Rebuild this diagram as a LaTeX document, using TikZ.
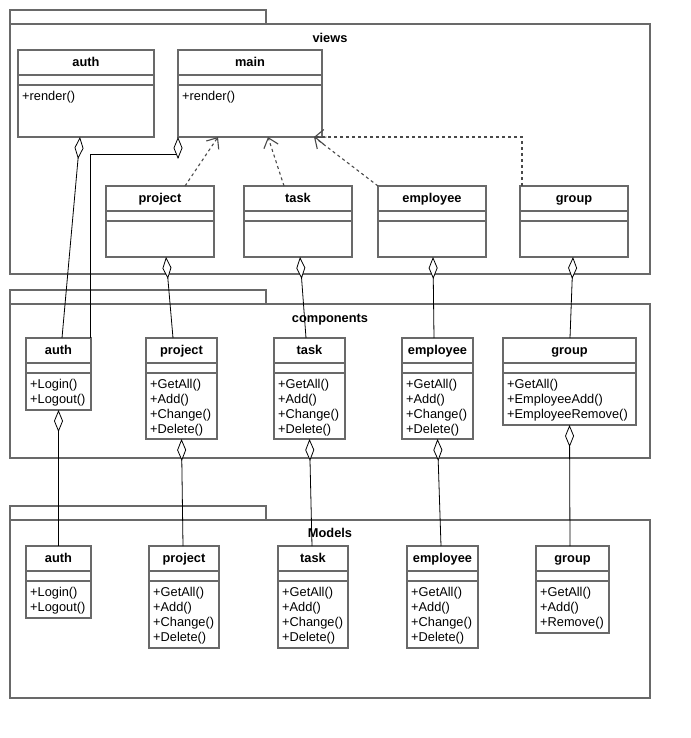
\documentclass[tikz,border=0pt]{standalone}
\usepackage{fontspec}
\setmainfont{Liberation Sans}
\usetikzlibrary{arrows.meta}

\definecolor{boxgray}{RGB}{105,105,105}

\begin{document}
\begin{tikzpicture}[x=1pt, y=-1pt,
    cls/.style = {draw=boxgray, line width=1.5pt, anchor=north west, outer sep=0pt, inner sep=0pt,
        path picture={\draw[boxgray, line width=1.5pt]
            ([yshift=-25pt]path picture bounding box.north west) -- ([yshift=-25pt]path picture bounding box.north east)
            ([yshift=-35pt]path picture bounding box.north west) -- ([yshift=-35pt]path picture bounding box.north east);}},
    title/.style = {font=\fontsize{12.8}{15}\selectfont\bfseries, inner sep=0pt, text height=9.2pt, text depth=2.7pt},
    ops/.style = {font=\fontsize{12.8}{15}\selectfont, align=left, anchor=north west, inner sep=0pt},
    pkg/.style = {draw=boxgray, line width=1.5pt},
    aggr/.style = {{Diamond[length=22pt, width=9pt, fill=white]}-, line width=0.8pt},
    dep/.style = {-{Straight Barb[length=9pt, width=15pt]}, dash pattern=on 3pt off 3pt, boxgray!70!black, line width=1.1pt}]
    \useasboundingbox (0,0) rectangle (690,738);

    % packages
    \draw[pkg] (10,10) rectangle (266,24);
    \draw[pkg] (10,24) rectangle (650,274);
    \node[title] (views) at (330,39.4) {views};
    \draw[pkg] (10,290) rectangle (266,304);
    \draw[pkg] (10,304) rectangle (650,458);
    \node[title] (components) at (330,319.4) {components};
    \draw[pkg] (10,506) rectangle (266,520);
    \draw[pkg] (10,520) rectangle (650,698);
    \node[title] (models) at (330,534.4) {Models};

    % views
    \node[cls, minimum width=136pt, minimum height=87pt] (vauth) at (18,50) {};
    \node[title] (vauthT) at ([yshift=-13.5pt]vauth.north) {auth};
    \node[ops] (vauthO) at ([xshift=4pt, yshift=-40.7pt]vauth.north west) {+render()};
    \node[cls, minimum width=144pt, minimum height=87pt] (vmain) at (178,50) {};
    \node[title] (vmainT) at ([yshift=-13.5pt]vmain.north) {main};
    \node[ops] (vmainO) at ([xshift=4pt, yshift=-40.7pt]vmain.north west) {+render()};
    \node[cls, minimum width=108pt, minimum height=71pt] (vproject) at (106,186) {};
    \node[title] (vprojectT) at ([yshift=-13.5pt]vproject.north) {project};
    \node[cls, minimum width=108pt, minimum height=71pt] (vtask) at (244,186) {};
    \node[title] (vtaskT) at ([yshift=-13.5pt]vtask.north) {task};
    \node[cls, minimum width=108pt, minimum height=71pt] (vemployee) at (378,186) {};
    \node[title] (vemployeeT) at ([yshift=-13.5pt]vemployee.north) {employee};
    \node[cls, minimum width=108pt, minimum height=71pt] (vgroup) at (520,186) {};
    \node[title] (vgroupT) at ([yshift=-13.5pt]vgroup.north) {group};

    % components
    \node[cls, minimum width=65pt, minimum height=72pt] (cauth) at (26,338) {};
    \node[title] (cauthT) at ([yshift=-13.5pt]cauth.north) {auth};
    \node[ops] (cauthO) at ([xshift=4pt, yshift=-40.7pt]cauth.north west) {+Login()\\+Logout()};
    \node[cls, minimum width=71pt, minimum height=101pt] (cproject) at (146,338) {};
    \node[title] (cprojectT) at ([yshift=-13.5pt]cproject.north) {project};
    \node[ops] (cprojectO) at ([xshift=4pt, yshift=-40.7pt]cproject.north west) {+GetAll()\\+Add()\\+Change()\\+Delete()};
    \node[cls, minimum width=71pt, minimum height=101pt] (ctask) at (274,338) {};
    \node[title] (ctaskT) at ([yshift=-13.5pt]ctask.north) {task};
    \node[ops] (ctaskO) at ([xshift=4pt, yshift=-40.7pt]ctask.north west) {+GetAll()\\+Add()\\+Change()\\+Delete()};
    \node[cls, minimum width=71pt, minimum height=101pt] (cemployee) at (402,338) {};
    \node[title] (cemployeeT) at ([yshift=-13.5pt]cemployee.north) {employee};
    \node[ops] (cemployeeO) at ([xshift=4pt, yshift=-40.7pt]cemployee.north west) {+GetAll()\\+Add()\\+Change()\\+Delete()};
    \node[cls, minimum width=133pt, minimum height=87pt] (cgroup) at (503,338) {};
    \node[title] (cgroupT) at ([yshift=-13.5pt]cgroup.north) {group};
    \node[ops] (cgroupO) at ([xshift=4pt, yshift=-40.7pt]cgroup.north west) {+GetAll()\\+EmployeeAdd()\\+EmployeeRemove()};

    % models
    \node[cls, minimum width=65pt, minimum height=72pt] (mauth) at (26,546) {};
    \node[title] (mauthT) at ([yshift=-13.5pt]mauth.north) {auth};
    \node[ops] (mauthO) at ([xshift=4pt, yshift=-40.7pt]mauth.north west) {+Login()\\+Logout()};
    \node[cls, minimum width=70pt, minimum height=102pt] (mproject) at (149,546) {};
    \node[title] (mprojectT) at ([yshift=-13.5pt]mproject.north) {project};
    \node[ops] (mprojectO) at ([xshift=4pt, yshift=-40.7pt]mproject.north west) {+GetAll()\\+Add()\\+Change()\\+Delete()};
    \node[cls, minimum width=70pt, minimum height=102pt] (mtask) at (278,546) {};
    \node[title] (mtaskT) at ([yshift=-13.5pt]mtask.north) {task};
    \node[ops] (mtaskO) at ([xshift=4pt, yshift=-40.7pt]mtask.north west) {+GetAll()\\+Add()\\+Change()\\+Delete()};
    \node[cls, minimum width=71pt, minimum height=102pt] (memployee) at (407,546) {};
    \node[title] (memployeeT) at ([yshift=-13.5pt]memployee.north) {employee};
    \node[ops] (memployeeO) at ([xshift=4pt, yshift=-40.7pt]memployee.north west) {+GetAll()\\+Add()\\+Change()\\+Delete()};
    \node[cls, minimum width=73pt, minimum height=87pt] (mgroup) at (536,546) {};
    \node[title] (mgroupT) at ([yshift=-13.5pt]mgroup.north) {group};
    \node[ops] (mgroupO) at ([xshift=4pt, yshift=-40.7pt]mgroup.north west) {+GetAll()\\+Add()\\+Remove()};

    % dependencies
    \draw[dep] ([xshift=25pt]vproject.north) -- ([xshift=40pt]vmain.south west);
    \draw[dep] ([xshift=-14pt]vtask.north) -- ([xshift=90pt]vmain.south west);
    \draw[dep] (vemployee.north west) -- ([xshift=-8pt]vmain.south east);
    \draw[dep] ([xshift=2pt]vgroup.north west) |- ([xshift=-8pt]vmain.south east);

    % aggregations
    \draw[aggr] ([xshift=-6pt]vauth.south) -- ([xshift=3.5pt]cauth.north);
    \draw[aggr] (vmain.south west) -- ++(0,17) -| ([xshift=-1pt]cauth.north east);
    \draw[aggr] ([xshift=6pt]vproject.south) -- ([xshift=-8.5pt]cproject.north);
    \draw[aggr] ([xshift=2pt]vtask.south) -- ([xshift=-3.5pt]ctask.north);
    \draw[aggr] ([xshift=1pt]vemployee.south) -- ([xshift=-3.5pt]cemployee.north);
    \draw[aggr] ([xshift=-1pt]vgroup.south) -- ([xshift=0.5pt]cgroup.north);
    \draw[aggr] (cauth.south) -- (mauth.north);
    \draw[aggr] (cproject.south) -- ([xshift=-1pt]mproject.north);
    \draw[aggr] (ctask.south) -- ([xshift=-1pt]mtask.north);
    \draw[aggr] (cemployee.south) -- ([xshift=-1.5pt]memployee.north);
    \draw[aggr] (cgroup.south) -- ([xshift=-2.5pt]mgroup.north);
\end{tikzpicture}
\end{document}
